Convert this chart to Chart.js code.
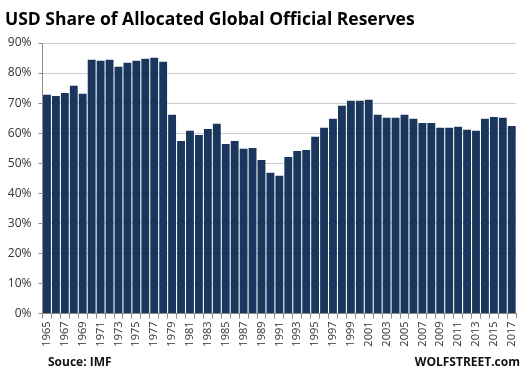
<!DOCTYPE html>
<html>
<head>
<meta charset="utf-8">
<script src="https://cdn.jsdelivr.net/npm/chart.js@4"></script>
<style>
    html, body { margin: 0; padding: 0; background: #fff; }
    #wrap { width: 528px; height: 374px; position: relative; }
</style>
</head>
<body>
<div id="wrap"><canvas id="reservesChart" width="528" height="374"></canvas></div>
<script>
// Years 1965..2017
const years = ['1965','1966','1967','1968','1969','1970','1971','1972','1973','1974',
    '1975','1976','1977','1978','1979','1980','1981','1982','1983','1984',
    '1985','1986','1987','1988','1989','1990','1991','1992','1993','1994',
    '1995','1996','1997','1998','1999','2000','2001','2002','2003','2004',
    '2005','2006','2007','2008','2009','2010','2011','2012','2013','2014',
    '2015','2016','2017'];

// USD share, percent
const usdShare = [72.8, 72.4, 73.4, 75.8, 73.1, 84.4, 84.1, 84.4, 82.1, 83.4,
    84.1, 84.8, 85.1, 83.8, 66.1, 57.4, 60.8, 59.4, 61.4, 63.1,
    56.4, 57.4, 54.8, 55.1, 51.1, 46.8, 45.8, 52.1, 54.1, 54.4,
    58.8, 61.8, 64.8, 69.1, 70.8, 70.8, 71.1, 66.1, 65.1, 65.1,
    66.1, 64.8, 63.4, 63.4, 61.8, 61.8, 62.1, 61.1, 60.8, 64.8,
    65.4, 65.1, 62.4];

const yTicks = [0, 10, 20, 30, 40, 50, 60, 70, 80, 90];

const titleText = 'USD Share of Allocated Global Official Reserves';
const sourceText = 'Souce: IMF';
const brandText = 'WOLFSTREET.com';

// Title and footer texts drawn on the canvas
const textPlugin = {
    id: 'titleAndFooter',
    afterDraw: (chart) => {
        const {ctx} = chart;
        ctx.save();
        ctx.fillStyle = '#000';
        ctx.textBaseline = 'alphabetic';
        ctx.font = 'bold 17.5px "Open Sans"';
        ctx.textAlign = 'left';
        ctx.fillText(titleText, 5, 25);

        ctx.font = 'bold 12px "Open Sans"';
        ctx.fillStyle = '#111';
        ctx.fillText(sourceText, 48, 366);
        ctx.textAlign = 'right';
        ctx.fillText(brandText, 520, 366);
        ctx.restore();
    }
};

const ctx = document.getElementById('reservesChart').getContext('2d');
const reservesChart = new Chart(ctx, {
    type: 'bar',
    data: {
        labels: years,
        datasets: [{
            label: 'USD share',
            data: usdShare,
            backgroundColor: '#1b365d',
            borderWidth: 0,
            barPercentage: 1,
            categoryPercentage: 0.88
        }]
    },
    options: {
        responsive: false,
        animation: false,
        devicePixelRatio: 1,
        layout: {
            padding: { top: 43, left: 0, right: 5, bottom: 0 }
        },
        plugins: {
            legend: { display: false },
            tooltip: { enabled: false },
            title: { display: false }
        },
        scales: {
            x: {
                grid: {
                    offset: true,
                    drawOnChartArea: false,
                    drawTicks: true,
                    tickLength: 5,
                    tickColor: '#8c8c8c'
                },
                border: { color: '#8c8c8c' },
                ticks: {
                    autoSkip: false,
                    maxRotation: 90,
                    minRotation: 90,
                    padding: 3,
                    color: '#333',
                    font: { family: '"Open Sans"', size: 11 },
                    callback: function(value, index) {
                        // every other year
                        return index % 2 === 0 ? this.getLabelForValue(value) : '';
                    }
                },
                afterFit: (scale) => { scale.height = 60.5; }
            },
            y: {
                min: 0,
                max: 90,
                afterBuildTicks: (scale) => {
                    scale.ticks = yTicks.map(v => ({ value: v }));
                },
                grid: {
                    color: '#c8ced9',
                    tickColor: '#8c8c8c',
                    tickLength: 4
                },
                border: { color: '#8c8c8c' },
                ticks: {
                    padding: 7,
                    color: '#333',
                    font: { family: '"Open Sans"', size: 12 },
                    callback: (value) => value + '%'
                },
                afterFit: (scale) => { scale.width = 42.5; }
            }
        }
    },
    plugins: [textPlugin]
});
</script>
</body>
</html>
